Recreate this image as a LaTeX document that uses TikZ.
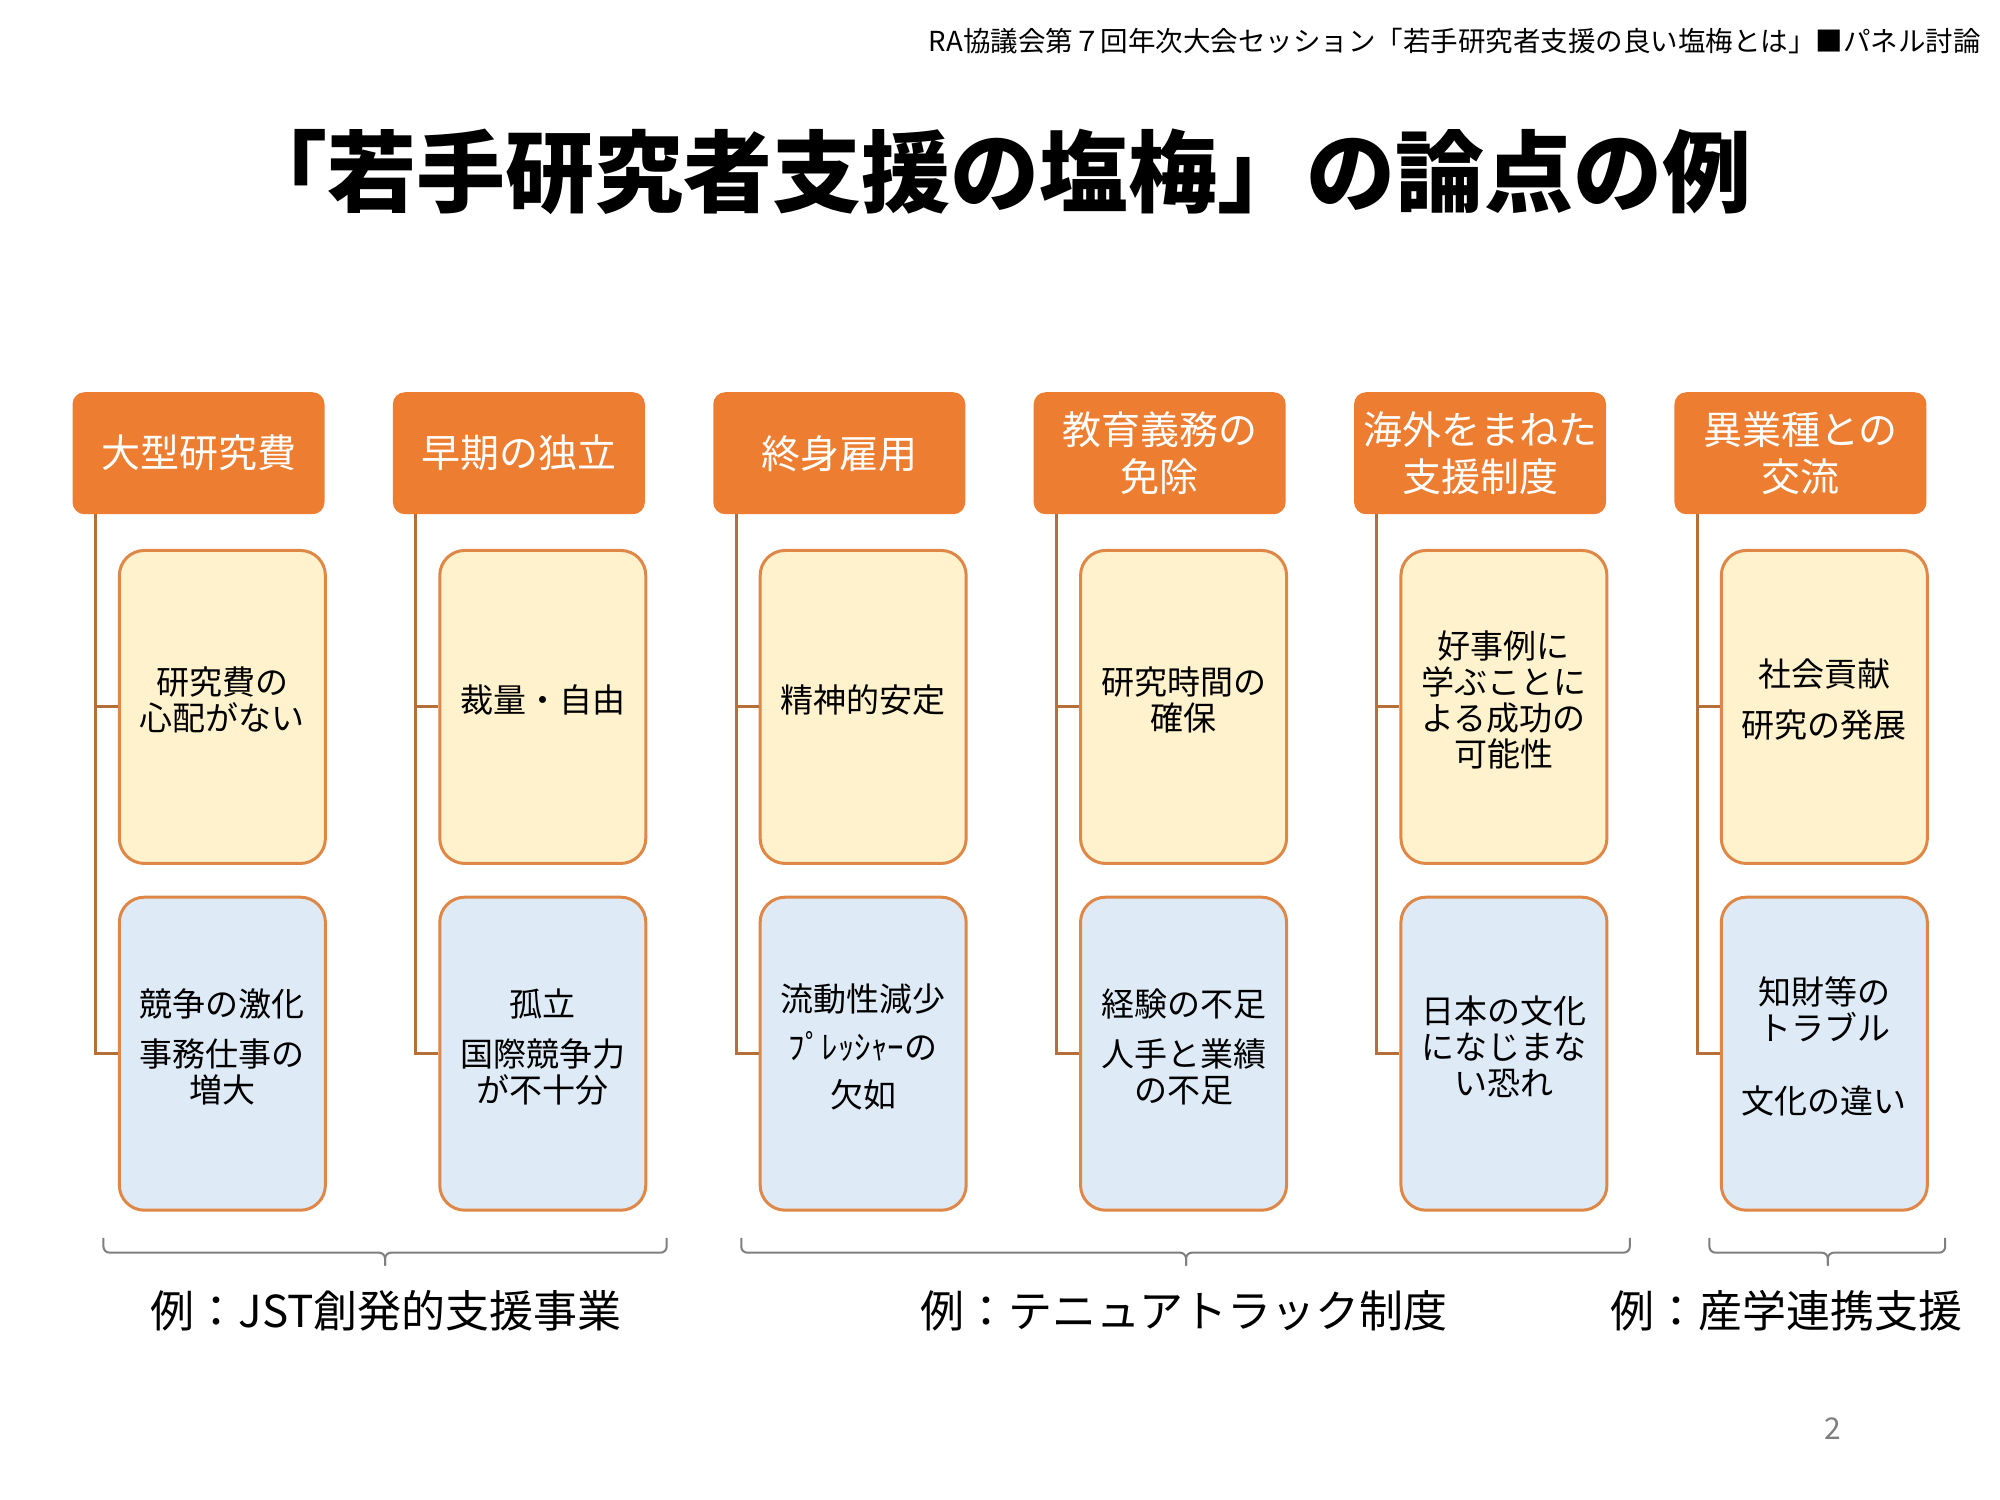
\documentclass[tikz,border=0pt]{standalone}
\usepackage{fontspec}
\setmainfont{Noto Sans CJK JP}
\definecolor{headorange}{HTML}{ED7D31}
\definecolor{proyellow}{HTML}{FFF2CC}
\definecolor{conblue}{HTML}{DEEBF7}
\definecolor{boxedge}{HTML}{DE8747}
\definecolor{linkbrown}{HTML}{B5703A}
\definecolor{bracegray}{HTML}{7F7F7F}
\tikzset{
  head/.style={fill=headorange, rounded corners=12pt, minimum width=252pt, minimum height=122pt,
    text=white, align=center, inner sep=0pt, font=\fontsize{39}{47}\selectfont},
  pro/.style={fill=proyellow, draw=boxedge, line width=3pt, rounded corners=25pt,
    minimum width=206pt, minimum height=313pt, align=center, inner sep=0pt, text depth=17pt,
    font=\fontsize{33}{36}\selectfont},
  con/.style={pro, fill=conblue},
  link/.style={draw=linkbrown, line width=3pt},
  bracket/.style={draw=bracegray, line width=2pt, rounded corners=6pt},
  example/.style={font=\fontsize{44}{48}\selectfont}
}
\begin{document}
\begin{tikzpicture}[x=0.995pt, y=-0.995pt]
        \path[fill=white, use as bounding box] (0,0) rectangle (2010.05,1507.54);

        \node[anchor=east, font=\fontsize{27.5}{30}\selectfont] (session) at (1994,41)
            {RA協議会第７回年次大会セッション「若手研究者支援の良い塩梅とは」■パネル討論};
        \node[font=\fontsize{89}{92}\selectfont\bfseries] (title) at (1000,173)
            {「若手研究者支援の塩梅」の論点の例};

        % headers
        \node[head] (head1) at (199.5,455.5) {大型研究費};
        \node[head] (head2) at (521.5,455.5) {早期の独立};
        \node[head] (head3) at (843.5,455.5) {終身雇用};
        \node[head] (head4) at (1165.5,455.5) {教育義務の\\免除};
        \node[head] (head5) at (1487.5,455.5) {海外をまねた\\支援制度};
        \node[head] (head6) at (1809.5,455.5) {異業種との\\交流};

        % merits
        \node[pro] (pro1) at (223.5,710.5) {研究費の\\心配がない};
        \node[pro] (pro2) at (545.5,710.5) {裁量・自由};
        \node[pro] (pro3) at (867.5,710.5) {精神的安定};
        \node[pro] (pro4) at (1189.5,710.5) {研究時間の\\確保};
        \node[pro] (pro5) at (1511.5,710.5) {好事例に\\学ぶことに\\よる成功の\\可能性};
        \node[pro] (pro6) at (1833.5,710.5) {社会貢献\\[15pt]研究の発展};

        % demerits
        \node[con] (con1) at (223.5,1059) {競争の激化\\[14pt]事務仕事の\\増大};
        \node[con] (con2) at (545.5,1059) {孤立\\[14pt]国際競争力\\が不十分};
        \node[con] (con3) at (867.5,1059) {流動性減少\\[12pt]ﾌﾟﾚｯｼｬｰの\\[12pt]欠如};
        \node[con] (con4) at (1189.5,1059) {経験の不足\\[14pt]人手と業績\\の不足};
        \node[con] (con5) at (1511.5,1059) {日本の文化\\になじまな\\い恐れ};
        \node[con] (con6) at (1833.5,1059) {知財等の\\トラブル\\[37pt]文化の違い};

        \foreach \i in {1,...,6} {
            \draw[link] ([xshift=23pt]head\i.south west) |- (pro\i.west);
            \draw[link] ([xshift=23pt]head\i.south west) |- (con\i.west);
        }

        % examples
        \coordinate (jstL) at (104,1244);
        \coordinate (jstR) at (670,1244);
        \coordinate (jstT) at (387,1272);
        \coordinate (tenureL) at (745,1244);
        \coordinate (tenureR) at (1638,1244);
        \coordinate (tenureT) at (1192,1272);
        \coordinate (indL) at (1718,1244);
        \coordinate (indR) at (1955,1244);
        \coordinate (indT) at (1837,1272);
        \foreach \g in {jst,tenure,ind} {
            \draw[bracket] (\g L) |- ([yshift=13pt]\g T) -- (\g T);
            \draw[bracket] (\g R) |- ([yshift=13pt]\g T) -- (\g T);
        }
        \node[example] (jst) at (388,1317) {例：JST創発的支援事業};
        \node[example] (tenure) at (1190,1317) {例：テニュアトラック制度};
        \node[example] (ind) at (1795,1317) {例：産学連携支援};

        \node[text=bracegray, font=\fontsize{30}{32}\selectfont] (page) at (1842,1436) {2};
\end{tikzpicture}
\end{document}
